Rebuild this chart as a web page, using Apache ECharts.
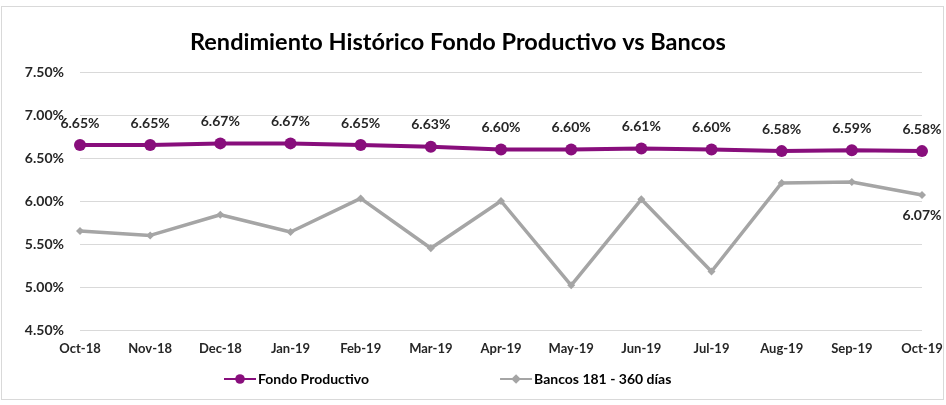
<!DOCTYPE html>
<html>
<head>
<meta charset="utf-8">
<script src="https://cdn.jsdelivr.net/npm/echarts@6/dist/echarts.min.js"></script>
<style>
  html, body { margin: 0; padding: 0; background: #fff; }
  #wrap { position: absolute; left: 1px; top: 6px; width: 943px; height: 394px; border: 1px solid #d9d9d9; box-sizing: border-box; }
  #chart { width: 946px; height: 405px; position: absolute; left: 0; top: 0; }
</style>
</head>
<body>
<div id="wrap"></div>
<div id="chart"></div>
<script>
var categories = ['Oct-18', 'Nov-18', 'Dec-18', 'Jan-19', 'Feb-19', 'Mar-19', 'Apr-19', 'May-19', 'Jun-19', 'Jul-19', 'Aug-19', 'Sep-19', 'Oct-19'];
var fondoProductivo = [6.65, 6.65, 6.67, 6.67, 6.65, 6.63, 6.60, 6.60, 6.61, 6.60, 6.58, 6.59, 6.58];
var bancos = [5.65, 5.60, 5.84, 5.64, 6.03, 5.45, 6.00, 5.02, 6.02, 5.18, 6.21, 6.22, 6.07];
var yTicks = [4.5, 5.0, 5.5, 6.0, 6.5, 7.0, 7.5];

var chart = echarts.init(document.getElementById('chart'));
var font = 'Lato, "Open Sans", sans-serif';

function pct(v) {
    return v.toFixed(2) + '%';
}

chart.setOption({
    backgroundColor: 'transparent',
    animation: false,
    title: {
        text: 'Rendimiento Histórico Fondo Productivo vs Bancos',
        left: 185,
        top: 25,
        textStyle: { fontFamily: font, fontWeight: 'bold', fontSize: 23.5, color: '#000' }
    },
    legend: {
        bottom: 14,
        left: 218,
        itemGap: 130,
        itemWidth: 32,
        itemHeight: 12,
        textStyle: { fontFamily: font, fontWeight: 'bold', fontSize: 14, color: '#000', padding: [0, 0, 0, -3] },
        data: ['Fondo Productivo', 'Bancos 181 - 360 días']
    },
    grid: {
        left: 80,
        right: 24,
        top: 72,
        bottom: 75
    },
    xAxis: {
        type: 'category',
        boundaryGap: false,
        data: categories,
        axisLine: { show: false },
        axisTick: { show: false },
        axisLabel: {
            margin: 12,
            fontFamily: font,
            fontWeight: 'bold',
            fontSize: 13,
            color: '#262626'
        }
    },
    yAxis: {
        type: 'value',
        min: yTicks[0],
        max: yTicks[yTicks.length - 1],
        interval: 0.5,
        axisLine: { show: false },
        axisTick: { show: false },
        splitLine: { lineStyle: { color: '#d9d9d9', width: 1 } },
        axisLabel: {
            margin: 16,
            fontFamily: font,
            fontWeight: 'bold',
            fontSize: 14,
            color: '#262626',
            formatter: function (v) { return pct(v); }
        }
    },
    series: [
        {
            name: 'Bancos 181 - 360 días',
            type: 'line',
            data: bancos.map(function (v, i) {
                if (i === bancos.length - 1) {
                    return {
                        value: v,
                        label: {
                            show: true,
                            position: 'bottom',
                            distance: 10,
                            formatter: function (p) { return pct(p.value); }
                        }
                    };
                }
                return v;
            }),
            symbol: 'diamond',
            symbolSize: 8,
            lineStyle: { color: '#a5a5a5', width: 3.5 },
            itemStyle: { color: '#a5a5a5' },
            label: {
                fontFamily: font,
                fontWeight: 'bold',
                fontSize: 14,
                color: '#262626'
            },
            z: 2
        },
        {
            name: 'Fondo Productivo',
            type: 'line',
            data: fondoProductivo,
            symbol: 'circle',
            symbolSize: 12,
            lineStyle: { color: '#880e7c', width: 4 },
            itemStyle: { color: '#880e7c' },
            label: {
                show: true,
                position: 'top',
                distance: 9,
                fontFamily: font,
                fontWeight: 'bold',
                fontSize: 14,
                color: '#262626',
                formatter: function (p) { return pct(p.value); }
            },
            z: 3
        }
    ]
});
</script>
</body>
</html>
